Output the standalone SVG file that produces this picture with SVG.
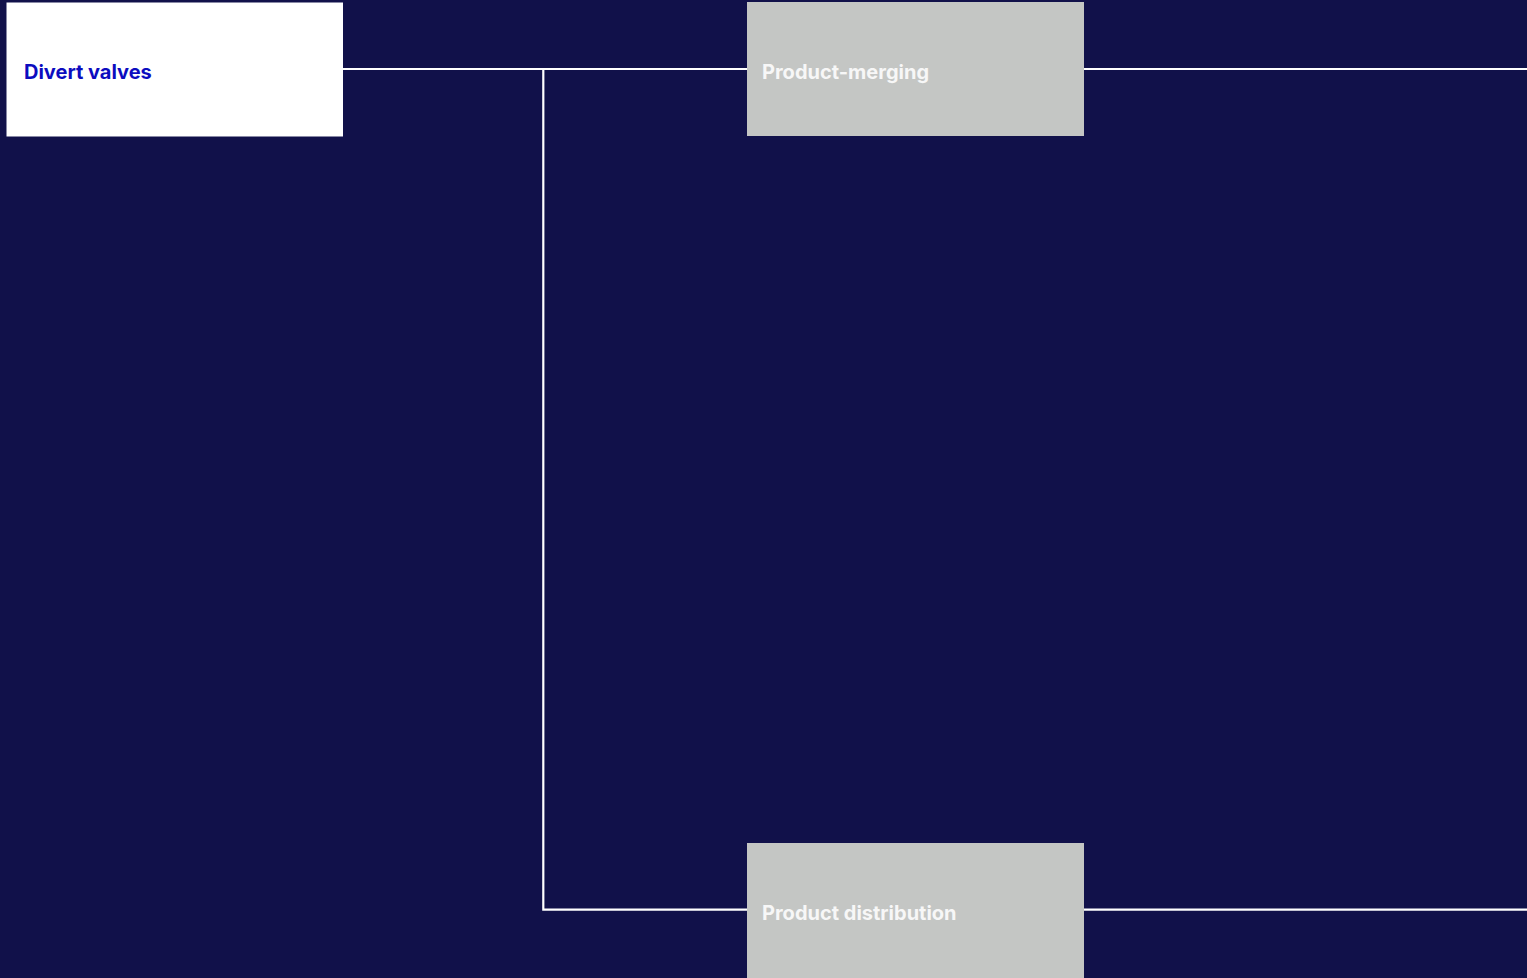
<svg xmlns="http://www.w3.org/2000/svg" width="1527" height="978" viewBox="0 0 1527 978">
<style>
.bg{fill:#11114a}
.conn{fill:none;stroke:#ffffff;stroke-width:2.2}
.lbl{font-family:Inter,"Liberation Sans",sans-serif;font-weight:700;font-size:20px}
.white{fill:#ffffff}
.gray{fill:#c4c6c4}
</style>
<rect class="bg" x="0" y="0" width="1527" height="978"/>
<g id="connectors">
<path class="conn" d="M343 69H747"/>
<path class="conn" d="M543.3 69V909.7H747"/>
<path class="conn" d="M1084 69H1527"/>
<path class="conn" d="M1084 909.7H1527"/>
</g>
<g id="divert-valves">
<rect class="white" x="6.5" y="2.5" width="336.5" height="134"/>
<text class="lbl" x="24" y="79" fill="#0c0cbf">Divert valves</text>
</g>
<g id="product-merging">
<rect class="gray" x="747" y="2" width="337" height="134"/>
<text class="lbl" x="762" y="79" fill="#f7f7f7">Product-merging</text>
</g>
<g id="product-distribution">
<rect class="gray" x="747" y="843" width="337" height="140"/>
<text class="lbl" x="762" y="920" fill="#f7f7f7">Product distribution</text>
</g>
</svg>
